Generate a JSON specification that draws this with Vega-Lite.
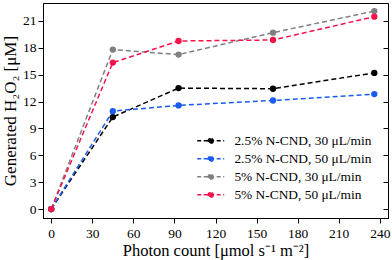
{
  "$schema": "https://vega.github.io/schema/vega-lite/v6.json",
  "width": 345,
  "height": 215,
  "autosize": "none",
  "padding": {"left": 43, "top": 3, "right": 4, "bottom": 42},
  "config": {
    "font": "Liberation Serif",
    "view": {"stroke": "black", "strokeWidth": 1},
    "axis": {
      "grid": false,
      "domainColor": "black",
      "tickColor": "black",
      "labelColor": "black",
      "titleColor": "black",
      "labelFont": "Liberation Serif",
      "titleFont": "Liberation Serif",
      "labelFontSize": 13.5,
      "titleFontSize": 16.5,
      "titleFontWeight": "normal",
      "tickSize": 5
    },
    "legend": {
      "labelFont": "Liberation Serif",
      "labelFontSize": 13.4,
      "labelColor": "black"
    }
  },
  "data": {
    "values": [
      {"s": "2.5% N-CND, 30 μL/min", "x": 0, "y": 0},
      {"s": "2.5% N-CND, 30 μL/min", "x": 45, "y": 10.27},
      {"s": "2.5% N-CND, 30 μL/min", "x": 93, "y": 13.5},
      {"s": "2.5% N-CND, 30 μL/min", "x": 162, "y": 13.43},
      {"s": "2.5% N-CND, 30 μL/min", "x": 236, "y": 15.2},
      {"s": "2.5% N-CND, 50 μL/min", "x": 0, "y": 0},
      {"s": "2.5% N-CND, 50 μL/min", "x": 45, "y": 10.93},
      {"s": "2.5% N-CND, 50 μL/min", "x": 93, "y": 11.57},
      {"s": "2.5% N-CND, 50 μL/min", "x": 162, "y": 12.12},
      {"s": "2.5% N-CND, 50 μL/min", "x": 236, "y": 12.83},
      {"s": "5% N-CND, 30 μL/min", "x": 0, "y": 0},
      {"s": "5% N-CND, 30 μL/min", "x": 45, "y": 17.8},
      {"s": "5% N-CND, 30 μL/min", "x": 93, "y": 17.24},
      {"s": "5% N-CND, 30 μL/min", "x": 162, "y": 19.69},
      {"s": "5% N-CND, 30 μL/min", "x": 236, "y": 22.1},
      {"s": "5% N-CND, 50 μL/min", "x": 0, "y": 0},
      {"s": "5% N-CND, 50 μL/min", "x": 45, "y": 16.35},
      {"s": "5% N-CND, 50 μL/min", "x": 93, "y": 18.76},
      {"s": "5% N-CND, 50 μL/min", "x": 162, "y": 18.87},
      {"s": "5% N-CND, 50 μL/min", "x": 236, "y": 21.47}
    ]
  },
  "encoding": {
    "x": {
      "field": "x", "type": "quantitative",
      "scale": {"domain": [-6, 246], "nice": false, "zero": false},
      "axis": {"values": [0, 30, 60, 90, 120, 150, 180, 210, 240], "title": "Photon count [μmol s⁻¹ m⁻²]", "labelPadding": 3, "titlePadding": 3}
    },
    "color": {
      "field": "s", "type": "nominal",
      "scale": {
        "domain": ["2.5% N-CND, 30 μL/min", "2.5% N-CND, 50 μL/min", "5% N-CND, 30 μL/min", "5% N-CND, 50 μL/min"],
        "range": ["#000000", "#1a5cf2", "#808080", "#f2144b"]
      },
      "legend": {
        "title": null,
        "orient": "bottom-right",
        "offset": 16,
        "symbolType": "M-2.7,0H2.7M0.5,0A0.5,0.5,0,1,1,-0.5,0A0.5,0.5,0,1,1,0.5,0Z",
        "symbolSize": 100,
        "symbolStrokeWidth": 1.5,
        "symbolDash": [4, 2.5],
        "symbolFillColor": null,
        "labelOffset": 17,
        "rowPadding": 3
      }
    }
  },
  "layer": [
    {
      "mark": {"type": "line", "strokeDash": [5, 3], "strokeWidth": 1.5},
      "encoding": {
        "y": {
          "field": "y", "type": "quantitative",
          "scale": {"domain": [-1, 23], "nice": false, "zero": false},
          "axis": {"orient": "left", "values": [0, 3, 6, 9, 12, 15, 18, 21], "title": "Generated H₂O₂ [μM]", "labelPadding": 2, "titlePadding": 3, "titleFontSize": 17}
        }
      }
    },
    {
      "mark": {"type": "point", "filled": true, "size": 40, "opacity": 1},
      "encoding": {
        "y": {
          "field": "y", "type": "quantitative",
          "scale": {"domain": [-1, 23], "nice": false, "zero": false},
          "axis": {"orient": "right", "values": [0, 3, 6, 9, 12, 15, 18, 21], "title": null, "labels": false, "tickSize": -5}
        }
      }
    }
  ],
  "resolve": {"axis": {"y": "independent"}}
}
